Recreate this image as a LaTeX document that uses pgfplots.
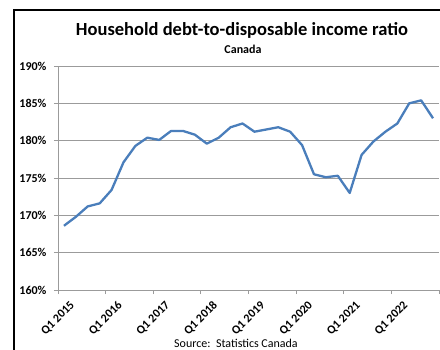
\documentclass[border=0pt]{standalone}
\usepackage{fontspec}
\setmainfont{Carlito}
\usepackage{pgfplots}
\pgfplotsset{compat=1.18}
\definecolor{lineblue}{RGB}{74,126,187}
\definecolor{gridgray}{RGB}{155,155,155}
\begin{document}
\begin{tikzpicture}
\useasboundingbox (0pt,0pt) rectangle (440pt,349pt);
\clip (0pt,0pt) rectangle (440pt,349pt);
\fill[white] (0pt,0pt) rectangle (440pt,349pt);
\draw[black, line width=1.8pt] (14pt,-20pt) -- (14pt,339pt) -- (470pt,339pt);
\begin{axis}[
  scale only axis, width=381pt, height=224pt,
  at={(58pt,59pt)}, anchor=south west,
  xmin=-0.5, xmax=31.5, ymin=160, ymax=190,
  axis lines*=left,
  axis line style={gridgray, line width=0.9pt},
  ytick={160,165,...,190},
  yticklabel={\pgfmathprintnumber{\tick}\%},
  /pgf/number format/assume math mode=true,
  ymajorgrids, grid style={gridgray, line width=0.9pt},
  tick align=outside,
  major tick length=4pt,
  minor tick length=4pt,
  ytick style={gridgray, line width=0.9pt},
  xtick={0,4,...,28},
  xticklabels={Q1 2015,Q1 2016,Q1 2017,Q1 2018,Q1 2019,Q1 2020,Q1 2021,Q1 2022},
  xtick style={draw=none},
  minor xtick={-0.5,3.5,...,31.5},
  minor x tick style={draw=gridgray, line width=0.9pt},
  y tick label style={font=\fontsize{12}{14}\selectfont\bfseries, xshift=-4pt},
  x tick label style={font=\fontsize{12}{14}\selectfont\bfseries, rotate=45, anchor=east, inner sep=0pt, xshift=-0.5pt, yshift=-13pt},
  clip=false,
]
\addplot[lineblue, line width=2.3pt, line join=round] coordinates {
(0,168.6) (1,169.8) (2,171.2) (3,171.6) (4,173.4) (5,177.1) (6,179.3) (7,180.4)
(8,180.1) (9,181.3) (10,181.3) (11,180.8) (12,179.6) (13,180.4) (14,181.8) (15,182.3)
(16,181.2) (17,181.5) (18,181.8) (19,181.2) (20,179.4) (21,175.5) (22,175.1) (23,175.3)
(24,173.0) (25,178.1) (26,179.9) (27,181.2) (28,182.3) (29,185.0) (30,185.4) (31,183.0)
};
\end{axis}
\node[font=\fontsize{18.5}{22}\selectfont\bfseries] at (242pt,319pt) {Household debt-to-disposable income ratio};
\node[font=\fontsize{12}{14}\selectfont\bfseries] at (243pt,300pt) {Canada};
\node[font=\fontsize{12}{14}\selectfont, anchor=base] at (236pt,2pt) {Source:\ \ Statistics Canada};
\end{tikzpicture}
\end{document}
